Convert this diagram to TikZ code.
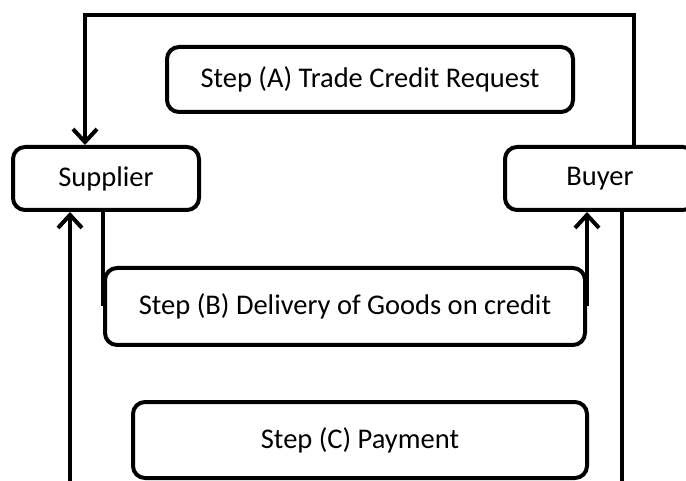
\documentclass[tikz,border=0pt]{standalone}
\usepackage{fontspec}
\setmainfont{Carlito}
\usetikzlibrary{arrows.meta}

\begin{document}
\begin{tikzpicture}
  [
  x=1pt, y=-1pt,
  boxnode/.style={draw, rounded corners=12pt, line width=4pt, align=center, inner sep=0pt, font=\fontsize{28.5}{34}\selectfont},
  link/.style={draw, line width=4pt},
  arrowlink/.style={link, -{Straight Barb[length=13pt, width=24pt]}}
  ]
  \useasboundingbox (0,0) rectangle (686,481);
  \node[boxnode, minimum width=186pt, minimum height=63pt] (supplier) at (106,178.5) {Supplier};
  \node[boxnode, minimum width=190pt, minimum height=63pt] (buyer) at (600,178.5) {Buyer};
  \node[boxnode, minimum width=406pt, minimum height=65pt] (stepA) at (370,79.5) {Step (A) Trade Credit Request};
  \node[boxnode, minimum width=480pt, minimum height=77pt] (stepB) at (345,306.5) {Step (B) Delivery of Goods on credit};
  \node[boxnode, minimum width=454pt, minimum height=76pt] (stepC) at (360,440) {Step (C) Payment};
  \coordinate (railtop) at (0,15);
  \coordinate (bottomleft) at (70,490);
  \coordinate (bottomright) at (622,490);
  \draw[arrowlink] ([xshift=34pt]buyer.north) |- ([xshift=-21pt]supplier.north |- railtop) -- ([xshift=-21pt]supplier.north);
  \draw[arrowlink] (bottomleft) -- (bottomleft |- supplier.south);
  \draw[link] (supplier.south -| stepB.west) -- (stepB.west);
  \draw[arrowlink] (stepB.east) -- (stepB.east |- buyer.south);
  \draw[link] (bottomright |- buyer.south) -- (bottomright);
\end{tikzpicture}
\end{document}
